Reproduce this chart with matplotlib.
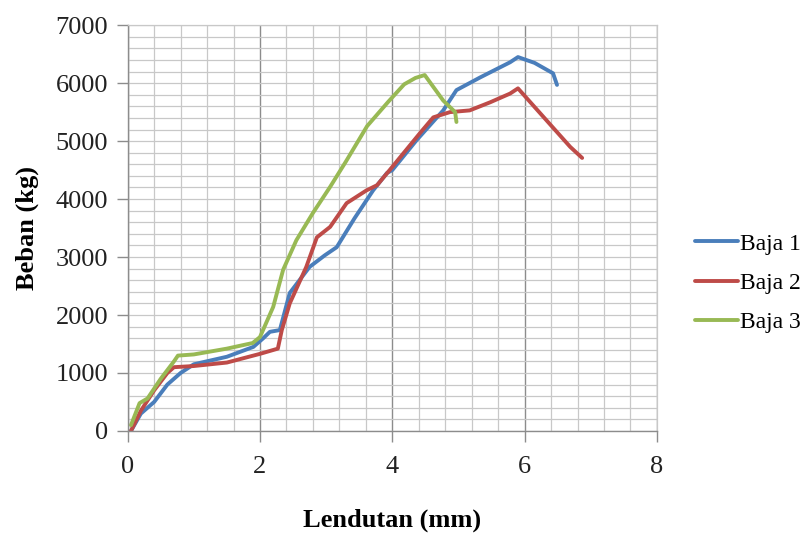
import matplotlib
matplotlib.use("Agg")
import matplotlib.pyplot as plt
from matplotlib.ticker import MultipleLocator

plt.rcParams['font.family'] = ['Liberation Serif', 'DejaVu Serif']

# Lendutan (mm) / Beban (kg) readings for each steel specimen
baja1_x = [0.05, 0.20, 0.40, 0.60, 0.80, 1.00, 1.50, 1.90, 2.05, 2.15, 2.30, 2.45,
           2.75, 2.98, 3.16, 3.43, 3.71, 3.92, 4.00, 4.37, 4.77, 4.97, 5.33, 5.78,
           5.90, 6.15, 6.43, 6.49]
baja1_y = [0, 300, 500, 800, 1000, 1150, 1280, 1450, 1600, 1710, 1740, 2380,
           2830, 3030, 3170, 3670, 4150, 4450, 4500, 5020, 5530, 5880, 6100, 6360,
           6450, 6350, 6170, 5970]

baja2_x = [0.05, 0.20, 0.40, 0.60, 0.70, 1.00, 1.50, 2.00, 2.27, 2.33, 2.45, 2.70,
           2.86, 3.06, 3.31, 3.61, 3.77, 3.96, 4.42, 4.62, 4.87, 5.17, 5.48, 5.78,
           5.90, 6.33, 6.69, 6.87]
baja2_y = [0, 350, 700, 1000, 1100, 1120, 1180, 1330, 1420, 1740, 2200, 2830,
           3340, 3520, 3930, 4150, 4240, 4500, 5140, 5410, 5500, 5530, 5670, 5820,
           5910, 5360, 4900, 4710]

baja3_x = [0.05, 0.18, 0.30, 0.50, 0.70, 0.76, 1.00, 1.50, 1.89, 2.00, 2.20, 2.35,
           2.55, 2.80, 3.06, 3.30, 3.62, 3.94, 4.18, 4.35, 4.49, 4.77, 4.95, 4.97]
baja3_y = [100, 480, 560, 900, 1200, 1300, 1320, 1420, 1517, 1620, 2140, 2780,
           3290, 3760, 4210, 4650, 5260, 5680, 5980, 6090, 6140, 5700, 5500, 5330]

series_names = ['Baja 1', 'Baja 2', 'Baja 3']
series_colors = ['#4A7EBB', '#BE4B48', '#98B954']

x_ticks = [0, 2, 4, 6, 8]
y_ticks = [0, 1000, 2000, 3000, 4000, 5000, 6000, 7000]

fig = plt.figure(figsize=(8.08, 5.36), dpi=100)
ax = fig.add_axes([0.158, 0.196, 0.655, 0.757])

ax.set_xlim(0, 8)
ax.set_ylim(0, 7000)
ax.set_xticks(x_ticks)
ax.set_yticks(y_ticks)
ax.xaxis.set_minor_locator(MultipleLocator(0.4))
ax.yaxis.set_minor_locator(MultipleLocator(200))

ax.grid(which='minor', color='#C8C8C8', linewidth=0.9)
ax.grid(which='major', axis='y', color='#C8C8C8', linewidth=0.9)
ax.grid(which='major', axis='x', color='#8C8C8C', linewidth=1.0)
ax.set_axisbelow(True)

for spine in ['top', 'right']:
    ax.spines[spine].set_color('#C8C8C8')
    ax.spines[spine].set_linewidth(0.9)
for spine in ['left', 'bottom']:
    ax.spines[spine].set_color('#8C8C8C')
    ax.spines[spine].set_linewidth(1.0)

ax.tick_params(which='major', direction='out', length=8, width=1.0,
               color='#8C8C8C', labelsize=19, labelcolor='#222222', pad=6)
ax.tick_params(axis='x', which='major', pad=10)
ax.tick_params(which='minor', length=0)

for xs, ys, name, c in zip([baja1_x, baja2_x, baja3_x],
                           [baja1_y, baja2_y, baja3_y],
                           series_names, series_colors):
    ax.plot(xs, ys, color=c, linewidth=2.8, label=name, solid_capstyle='round')

ax.set_xlabel('Lendutan (mm)', fontsize=19, fontweight='bold', labelpad=22)
ax.set_ylabel('Beban (kg)', fontsize=19, fontweight='bold', labelpad=12)

leg = fig.legend(loc='center left', bbox_to_anchor=(0.860, 0.472), frameon=False,
                 fontsize=17, handlelength=1.82, handletextpad=0.1,
                 labelspacing=0.75, borderpad=0, borderaxespad=0)

fig.savefig('out.png', dpi=100)
